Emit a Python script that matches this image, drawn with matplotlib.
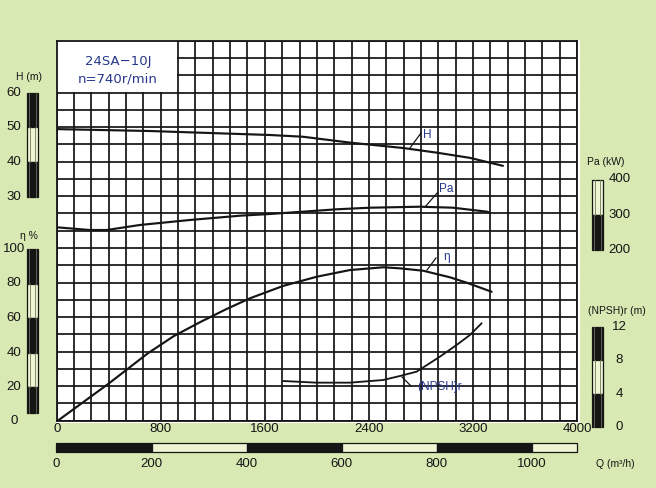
import matplotlib
matplotlib.use("Agg")
import numpy as np
import matplotlib.pyplot as plt
import matplotlib.transforms as mt
from matplotlib.patches import Rectangle
from matplotlib.lines import Line2D

# ---------------- data ----------------
q_head = [0, 715, 1638, 1892, 2254, 2662, 2923, 3177, 3431]
head = [49.5, 48.95, 47.8, 47.3, 45.6, 44.05, 42.7, 41.2, 38.9]

q_power = [0, 254, 385, 638, 1023, 1408, 1638, 1892, 2154, 2408, 2792, 3046, 3308, 3331]
power = [264.4, 256.7, 256.7, 270.9, 285.1, 297.3, 302.1, 308.7, 315.5, 320.0, 322.8, 320.0, 308.7, 305.8]

q_eff = [0, 400, 700, 900, 1100, 1300, 1485, 1741, 1998, 2254, 2510, 2638, 2818, 3023, 3151, 3344]
eff = [0, 22.0, 39.5, 49.5, 57.5, 65.0, 71.4, 78.6, 83.9, 87.8, 89.4, 88.8, 87.4, 83.6, 80.5, 75.2]

q_npsh = [1741, 1998, 2254, 2510, 2638, 2767, 2946, 3074, 3177, 3267]
npsh = [5.52, 5.32, 5.32, 5.64, 6.12, 6.64, 8.44, 9.84, 11.04, 12.45]

q_ticks = [0, 800, 1600, 2400, 3200, 4000]
ls_ticks = [0, 200, 400, 600, 800, 1000]
head_ticks = [30, 40, 50, 60]
eff_ticks = [0, 20, 40, 60, 80, 100]
power_ticks = [200, 300, 400]
npsh_ticks = [0, 4, 8, 12]

title_lines = ["24SA\u221210J", "n=740r/min"]

# ---------------- style ----------------
W, H = 656, 488
BG = "#d9e9b4"
LIGHT = "#eef5d4"
INK = "#151515"
NAVY = "#27398c"
NUM = ["Liberation Sans", "DejaVu Sans"]
NARROW = ["Liberation Sans Narrow", "Liberation Sans", "DejaVu Sans"]

fig = plt.figure(figsize=(W / 100, H / 100), dpi=100, facecolor=BG)
px = mt.Affine2D().scale(1 / W, -1 / H).translate(0, 1) + fig.transFigure

L, R, T, B = 56.7, 577.0, 40.7, 420.7


def lim(v1, p1, v2, p2):
    s = (v2 - v1) / (p2 - p1)
    return (v1 + (B - p1) * s, v1 + (T - p1) * s)


def new_axes():
    return fig.add_axes([L / W, 1 - B / H, (R - L) / W, (B - T) / H])


# white sheet slightly larger than the grid
fig.add_artist(Rectangle((55.5, 39.5), 524, 383, transform=px,
                         facecolor="white", edgecolor="none", zorder=0))

# main (efficiency) axes with grid
ax = new_axes()
ax.set_facecolor("white")
ax.set_xlim(0, 4000)
e_lim = lim(100, 249, 0, 421.5)
ax.set_ylim(*e_lim)
ax.set_xticks(np.linspace(0, 4000, 31))
ax.set_yticks(np.linspace(e_lim[0], e_lim[1], 23))
ax.tick_params(length=0, labelbottom=False, labelleft=False)
ax.grid(True, color=INK, lw=1.25)
for s in ax.spines.values():
    s.set_color(INK)
    s.set_linewidth(1.3)

# header box (covers 7 columns x 3 rows of the grid)
cw = 4000 / 30
rh = (e_lim[1] - e_lim[0]) / 22
ax.add_patch(Rectangle((0, e_lim[1] - 3 * rh + 0.5), 7 * cw - 5, 3 * rh,
                       facecolor="white", edgecolor="none", zorder=2))
for i, t in enumerate(title_lines):
    fig.text(118 / W, 1 - (61.5 + 18 * i) / H, t, ha="center", va="center",
             color=NAVY, fontsize=9.5, family=["DejaVu Sans"])

ax_e = ax
ax_h = new_axes()
ax_p = new_axes()
ax_n = new_axes()
h_lim = lim(60, 92.7, 30, 196.7)
p_lim = lim(400, 179.5, 200, 250)
n_lim = lim(12, 327, 0, 427)
for a, yl in [(ax_h, h_lim), (ax_p, p_lim), (ax_n, n_lim)]:
    a.set_xlim(0, 4000)
    a.set_ylim(*yl)
    a.set_axis_off()

lw = 1.55
ax_h.plot(q_head, head, color=INK, lw=lw, solid_capstyle="round", solid_joinstyle="round")
ax_p.plot(q_power, power, color=INK, lw=lw, solid_capstyle="round", solid_joinstyle="round")
ax_e.plot(q_eff, eff, color=INK, lw=lw, solid_capstyle="round", solid_joinstyle="round", zorder=3)
ax_n.plot(q_npsh, npsh, color=INK, lw=lw * 0.85, solid_capstyle="round", solid_joinstyle="round")

# curve labels with leaders (figure pixel coordinates)
labels = [("H", (410, 148), (421, 133), (423, 135)),
          ("Pa", (425, 207), (438, 192), (439, 189)),
          ("\u03b7", (427, 270), (436, 258), (443, 257)),
          ("(NPSH)r", (402, 377), (411, 386), (417, 387))]
for txt, p0, p1, pt in labels:
    fig.add_artist(Line2D([p0[0], p1[0]], [p0[1], p1[1]], transform=px,
                          color=INK, lw=0.9))
    fig.text(pt[0] / W, 1 - pt[1] / H, txt, ha="left", va="center",
             color=NAVY, fontsize=8.5, family=NUM)

# ---------------- side scale bars ----------------

def vbar(axq, x0, x1, segs):
    tr = mt.blended_transform_factory(px, axq.transData)
    for lo, hi, dark in segs:
        fig.add_artist(Rectangle((x0, lo), x1 - x0, hi - lo, transform=tr,
                                 facecolor=INK if dark else LIGHT,
                                 edgecolor=INK, lw=0.9))
        if dark:
            for xx in (x0 + 1.6, x1 - 1.6):
                fig.add_artist(Line2D([xx, xx], [lo, hi], transform=tr,
                                      color="#7d7d6a", lw=0.5))
        else:
            for xx in (x0 + 3.2, x1 - 3.2):
                fig.add_artist(Line2D([xx, xx], [lo, hi], transform=tr,
                                      color="#6f7a5a", lw=0.6))


def vlabels(axq, xc, ticks):
    tr = mt.blended_transform_factory(px, axq.transData)
    for v in ticks:
        fig.text(xc, v, f"{v}", transform=tr, ha="center", va="center",
                 fontsize=9.5, color=INK, family=NUM)


vbar(ax_h, 27, 38, [(50, 60, True), (40, 50, False), (30, 40, True)])
vlabels(ax_h, 14, head_ticks)
vbar(ax_e, 27, 38, [(80, 100, True), (60, 80, False), (40, 60, True),
                    (20, 40, False), (4.8, 20, True)])
vlabels(ax_e, 14, eff_ticks)
vbar(ax_p, 592, 603, [(300, 400, False), (200, 300, True)])
vlabels(ax_p, 619.5, power_ticks)
vbar(ax_n, 592, 603, [(8, 12, True), (4, 8, False), (0, 4, True)])
vlabels(ax_n, 619.5, npsh_ticks)

# axis titles
for txt, x, y in [("H (m)", 29, 77), ("\u03b7 %", 29, 236),
                  ("Pa (kW)", 606, 162), ("(NPSH)r (m)", 617, 311),
                  ("Q (m\u00b3/h)", 615, 464)]:
    fig.text(x / W, 1 - y / H, txt, ha="center", va="center", fontsize=7.5,
             color=INK, family=NUM)

# Q tick labels under the grid
trq = mt.blended_transform_factory(ax.transData, px)
for v in q_ticks:
    fig.text(v, 429, f"{v}", transform=trq, ha="center", va="center",
             fontsize=9.5, color=INK, family=NARROW)

# lower flow bar
ax_ls = fig.add_axes([56.5 / W, 0.0, (577 - 56.5) / W, 0.01])
ax_ls.set_xlim(0, 1095)
ax_ls.set_axis_off()
trl = mt.blended_transform_factory(ax_ls.transData, px)
segs = [(0, 200, True), (200, 400, False), (400, 600, True),
        (600, 800, False), (800, 1000, True), (1000, 1095, False)]
for lo, hi, dark in segs:
    fig.add_artist(Rectangle((lo, 442.5), hi - lo, 9, transform=trl,
                             facecolor=INK if dark else LIGHT,
                             edgecolor=INK, lw=0.9))
for v in ls_ticks:
    fig.text(v, 464, f"{v}", transform=trl, ha="center", va="center",
             fontsize=9.5, color=INK, family=NARROW)

fig.savefig("out.png", dpi=100, facecolor=BG)
